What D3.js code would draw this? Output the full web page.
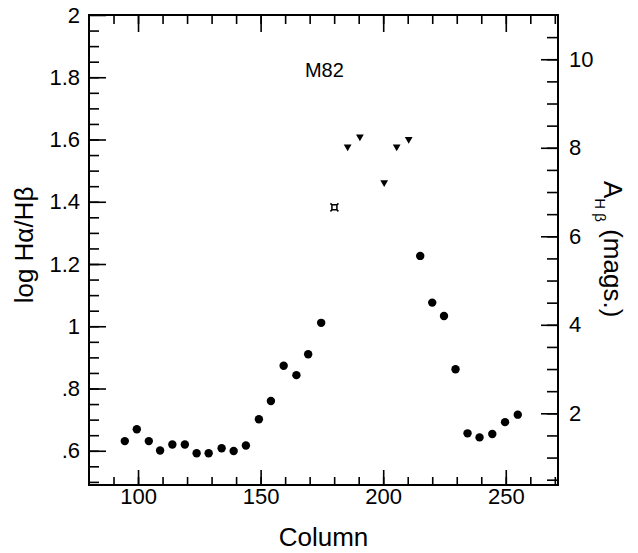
<!DOCTYPE html>
<html>
<head>
<meta charset="utf-8">
<script src="https://cdn.jsdelivr.net/npm/d3@7"></script>
<style>
  body { margin: 0; background: #fff; }
  svg text { font-family: "Liberation Sans", Arial, Helvetica, sans-serif; fill: #000; }
</style>
</head>
<body>
<div id="chart"></div>
<script>
// circles: log Ha/Hb per column
var circleCols = [94.6, 99.5, 104.4, 109, 114, 119.1, 123.9, 128.8, 134.1, 139, 144, 149.3, 154.2,
    159.4, 164.6, 169.4, 174.7, 215.1, 220, 224.8, 229.5, 234.4, 239.3, 244.5, 249.7, 254.9];
var circleVals = [0.631, 0.669, 0.631, 0.601, 0.620, 0.620, 0.592, 0.592, 0.608, 0.599, 0.617, 0.701, 0.760,
    0.873, 0.843, 0.910, 1.011, 1.226, 1.076, 1.033, 0.862, 0.656, 0.643, 0.654, 0.692, 0.716];
// downward triangles
var triCols = [185.5, 190.5, 200.4, 205.5, 210.4];
var triVals = [1.577, 1.609, 1.462, 1.577, 1.601];
// single odd marker
var starCols = [180.1];
var starVals = [1.382];

var xMajor = [100, 150, 200, 250];
var leftMajor = [0.6, 0.8, 1, 1.2, 1.4, 1.6, 1.8, 2];
var leftLabels = [".6", ".8", "1", "1.2", "1.4", "1.6", "1.8", "2"];
var rightMajor = [2, 4, 6, 8, 10];

var margin = {top: 15, right: 80, bottom: 68, left: 89};
var width = 638 - margin.left - margin.right;
var height = 553 - margin.top - margin.bottom;

var x = d3.scaleLinear().domain([80, 271.3]).range([0, width]);
var y = d3.scaleLinear().domain([0.49, 2]).range([height, 0]);
var yR = d3.scaleLinear().domain([0.38, 11.0]).range([height, 0]);

var svg = d3.select("#chart").append("svg")
    .attr("width", 638)
    .attr("height", 553)
    .append("g")
    .attr("transform", "translate(" + margin.left + "," + margin.top + ")");

function style(g) {
    g.select(".domain").remove();
    g.selectAll(".tick line").attr("stroke", "#000").attr("stroke-width", 1.6);
    g.selectAll(".tick text").style("font-size", "22px").attr("fill", "#000");
}

var xMinor = d3.range(90, 271, 10);
var leftMinor = d3.range(0.5, 1.99, 0.05);
var rightMinor = d3.range(0.5, 10.9, 0.5);

// bottom
svg.append("g").attr("transform", "translate(0," + height + ")")
    .call(d3.axisBottom(x).tickValues(xMinor).tickSize(-8).tickFormat("")).call(style);
svg.append("g").attr("transform", "translate(0," + height + ")")
    .call(d3.axisBottom(x).tickValues(xMajor).tickSize(-15).tickPadding(3).tickFormat(d3.format("d"))).call(style);
// top
svg.append("g")
    .call(d3.axisTop(x).tickValues(xMinor).tickSize(-9).tickFormat("")).call(style);
svg.append("g")
    .call(d3.axisTop(x).tickValues(xMajor).tickSize(-17).tickFormat("")).call(style);
// left
svg.append("g")
    .call(d3.axisLeft(y).tickValues(leftMinor).tickSize(-10).tickFormat("")).call(style);
svg.append("g")
    .call(d3.axisLeft(y).tickValues(leftMajor).tickSize(-17).tickPadding(9)
        .tickFormat(function (d, i) { return leftLabels[i]; })).call(style);
// right
svg.append("g").attr("transform", "translate(" + width + ",0)")
    .call(d3.axisRight(yR).tickValues(rightMinor).tickSize(-11).tickFormat("")).call(style);
svg.append("g").attr("transform", "translate(" + width + ",0)")
    .call(d3.axisRight(yR).tickValues(rightMajor).tickSize(-17).tickPadding(11).tickFormat(d3.format("d"))).call(style);

// frame
svg.append("rect")
    .attr("width", width).attr("height", height)
    .attr("fill", "none").attr("stroke", "#000").attr("stroke-width", 2);

// circles
svg.selectAll(".dot")
    .data(circleCols)
    .enter().append("circle")
    .attr("class", "dot")
    .attr("cx", function (d) { return x(d); })
    .attr("cy", function (d, i) { return y(circleVals[i]); })
    .attr("r", 4.2)
    .attr("fill", "#000");

// triangles
var tri = d3.symbol().type(d3.symbolTriangle).size(26);
svg.selectAll(".tri")
    .data(triCols)
    .enter().append("path")
    .attr("class", "tri")
    .attr("d", tri)
    .attr("transform", function (d, i) {
        return "translate(" + x(d) + "," + y(triVals[i]) + ") rotate(180)";
    })
    .attr("fill", "#000");

// hollow square marker with corner spikes
svg.selectAll(".star")
    .data(starCols)
    .enter().append("path")
    .attr("class", "star")
    .attr("d", "M-2.5,-2.5H2.5V2.5H-2.5Z M-2.5,-2.5L-4,-4 M2.5,-2.5L4,-4 M2.5,2.5L4,4 M-2.5,2.5L-4,4")
    .attr("transform", function (d, i) {
        return "translate(" + x(d) + "," + y(starVals[i]) + ")";
    })
    .attr("fill", "none")
    .attr("stroke", "#000")
    .attr("stroke-width", 1.5);

// labels
svg.append("text")
    .attr("x", x(176))
    .attr("y", 62)
    .attr("text-anchor", "middle")
    .style("font-size", "20px")
    .text("M82");

svg.append("text")
    .attr("x", width / 2)
    .attr("y", height + 61)
    .attr("text-anchor", "middle")
    .style("font-size", "26px")
    .text("Column");

svg.append("text")
    .attr("transform", "translate(" + (33 - margin.left) + "," + (245 - margin.top) + ") rotate(-90)")
    .attr("text-anchor", "middle")
    .style("font-size", "26px")
    .text("log H\u03b1/H\u03b2");

var rl = svg.append("text")
    .attr("transform", "translate(" + (604 - margin.left) + "," + (181 - margin.top) + ") rotate(90)")
    .attr("text-anchor", "start")
    .style("font-size", "26px");
rl.append("tspan").text("A");
rl.append("tspan").attr("dy", 9).style("font-size", "15px").text("H \u03b2");
rl.append("tspan").attr("dy", -9).text(" (mags.)");
</script>
</body>
</html>
